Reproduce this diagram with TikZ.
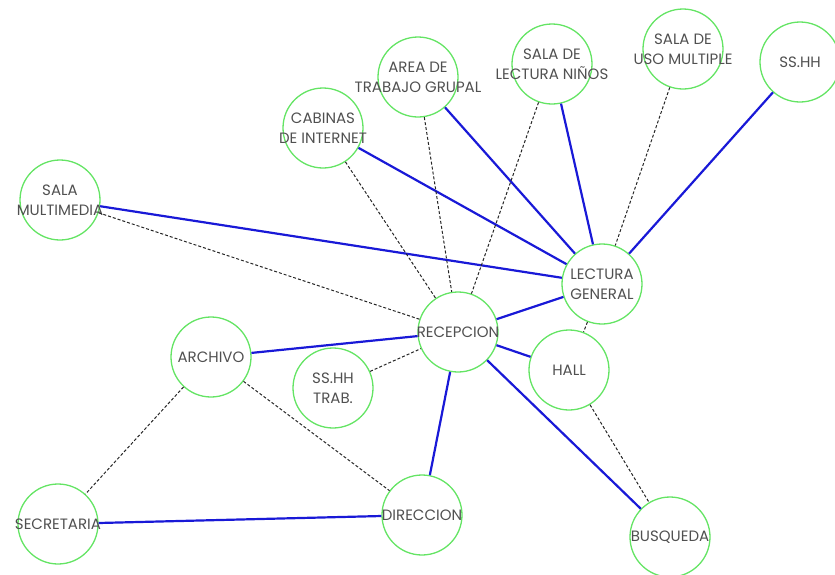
\documentclass[tikz,border=0pt]{standalone}
\usepackage{fontspec}
\newfontfamily\roomfont{Poppins}
\usetikzlibrary{positioning}
\definecolor{roomgreen}{RGB}{100,228,100}
\definecolor{linkblue}{RGB}{25,25,215}
\definecolor{labelgray}{RGB}{80,80,80}

\begin{document}
\begin{tikzpicture}[x=1pt, y=-1pt]
    \tikzstyle{room} = [circle, draw=roomgreen, line width=1.3pt, minimum size=80pt, inner sep=0pt]
    \tikzstyle{roomtext} = [font=\roomfont\fontsize{15}{20}\selectfont, text=labelgray, align=center]
    \tikzstyle{direct} = [draw=linkblue, line width=2.2pt]
    \tikzstyle{indirect} = [draw=black!85, line width=1pt, dash pattern=on 3pt off 2pt]

    \useasboundingbox (0,0) rectangle (835,574);

    % spaces
    \node[room, label={[roomtext]center:SALA\\MULTIMEDIA}] (multimedia) at (60,200) {};
    \node[room, label={[roomtext]center:CABINAS\\DE INTERNET}] (cabinas) at (323,128) {};
    \node[room, label={[roomtext]center:AREA DE\\TRABAJO GRUPAL}] (grupal) at (418,77) {};
    \node[room, label={[roomtext]center:SALA DE\\LECTURA NIÑOS}] (ninos) at (552,64) {};
    \node[room, label={[roomtext]center:SALA DE\\USO MULTIPLE}] (multiple) at (683,49) {};
    \node[room, label={[roomtext]center:SS.HH}] (sshh) at (800,62) {};
    \node[room, label={[roomtext]center:LECTURA\\GENERAL}] (lectura) at (602,284) {};
    \node[room, label={[roomtext]center:RECEPCION}] (recepcion) at (458,332) {};
    \node[room, label={[roomtext]center:HALL}] (hall) at (569,370) {};
    \node[room, label={[roomtext]center:ARCHIVO}] (archivo) at (211,357) {};
    \node[room, label={[roomtext]center:SS.HH\\TRAB.}] (trab) at (333,388) {};
    \node[room, label={[roomtext]center:SECRETARIA}] (secretaria) at (58,524) {};
    \node[room, label={[roomtext]center:DIRECCION}] (direccion) at (422,515) {};
    \node[room, label={[roomtext]center:BUSQUEDA}] (busqueda) at (670,537) {};

    % direct links
    \draw[direct] (multimedia) -- (lectura);
    \draw[direct] (cabinas) -- (lectura);
    \draw[direct] (grupal) -- (lectura);
    \draw[direct] (ninos) -- (lectura);
    \draw[direct] (sshh) -- (lectura);
    \draw[direct] (recepcion) -- (lectura);
    \draw[direct] (recepcion) -- (hall);
    \draw[direct] (recepcion) -- (direccion);
    \draw[direct] (recepcion) -- (busqueda);
    \draw[direct] (archivo) -- (recepcion);
    \draw[direct] (secretaria) -- (direccion);

    % indirect links
    \draw[indirect] (multimedia) -- (recepcion);
    \draw[indirect] (cabinas) -- (recepcion);
    \draw[indirect] (grupal) -- (recepcion);
    \draw[indirect] (ninos) -- (recepcion);
    \draw[indirect] (multiple) -- (lectura);
    \draw[indirect] (lectura) -- (hall);
    \draw[indirect] (trab) -- (recepcion);
    \draw[indirect] (archivo) -- (secretaria);
    \draw[indirect] (archivo) -- (direccion);
    \draw[indirect] (hall) -- (busqueda);
\end{tikzpicture}
\end{document}
